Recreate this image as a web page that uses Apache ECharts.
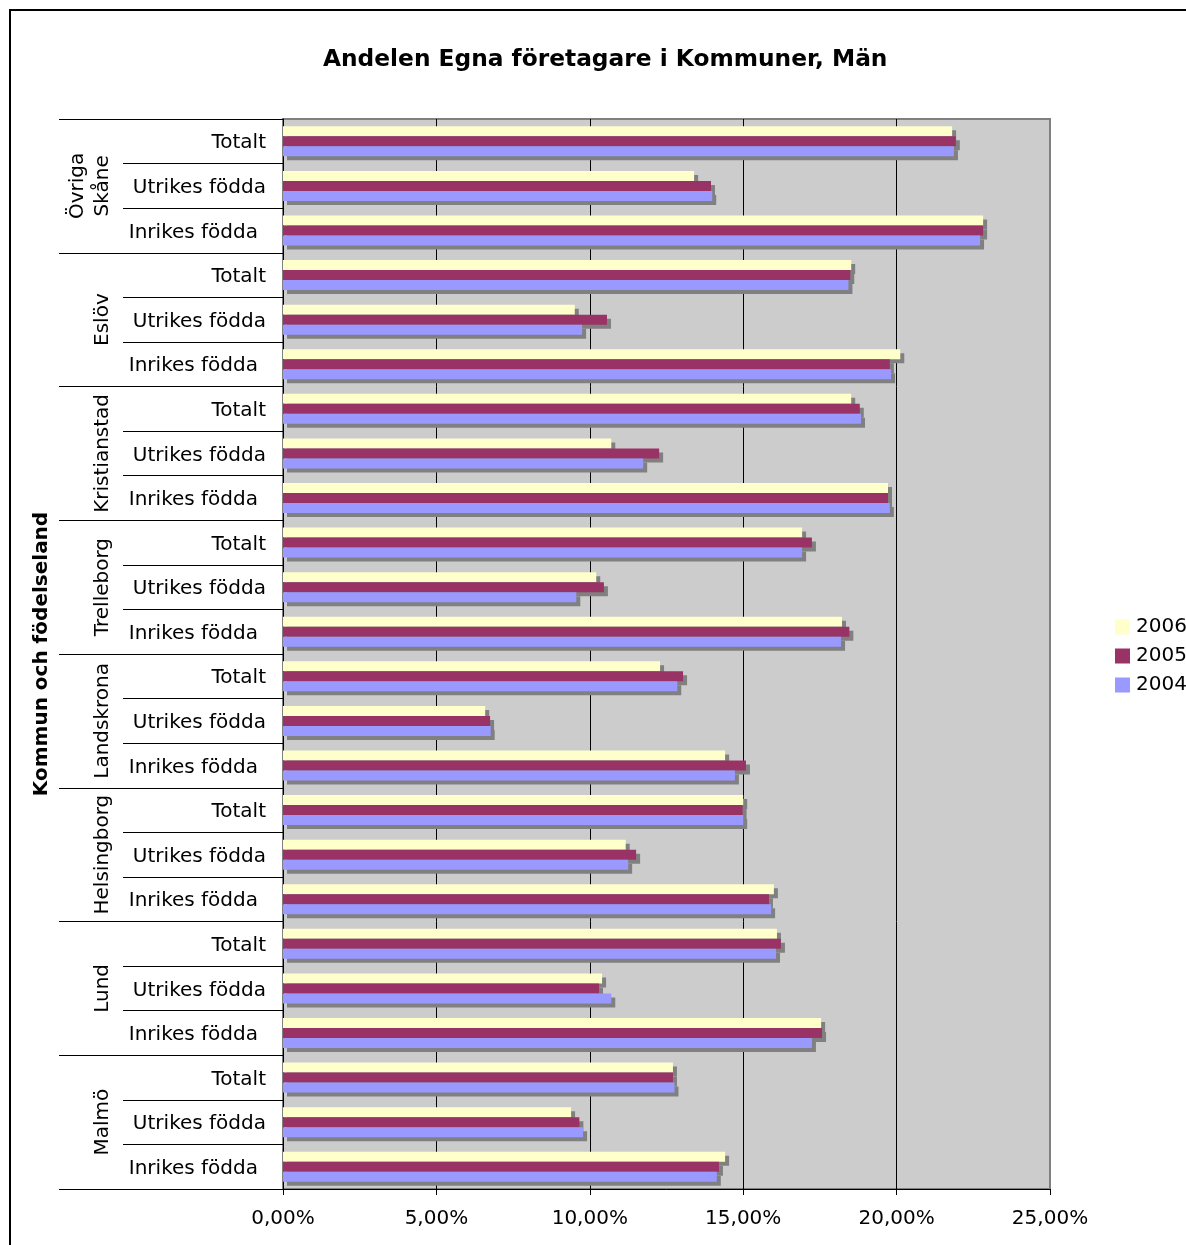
<!DOCTYPE html>
<html>
<head>
<meta charset="utf-8">
<script src="https://cdn.jsdelivr.net/npm/echarts@6/dist/echarts.min.js"></script>
<style>
html,body{margin:0;padding:0;background:#fff;}
#chart{width:1186px;height:1245px;}
</style>
</head>
<body>
<div id="chart"></div>
<script>
// Categories listed bottom to top
var groups = ['Malmö', 'Lund', 'Helsingborg', 'Landskrona', 'Trelleborg', 'Kristianstad', 'Eslöv', 'Övriga\nSkåne'];
var subs = ['Inrikes födda', 'Utrikes födda', 'Totalt'];
var years = ['2006', '2005', '2004'];
var xTicks = [0, 5, 10, 15, 20, 25];

// Percent values, order: each group (bottom to top) x [Inrikes, Utrikes, Totalt]
var v2006 = [14.41, 9.39, 12.71, 17.54, 10.40, 16.10, 16.00, 11.17, 15.00, 14.41, 6.59, 12.29,
             18.22, 10.21, 16.92, 19.72, 10.70, 18.52, 20.12, 9.51, 18.52, 22.82, 13.40, 21.81];
var v2005 = [14.21, 9.66, 12.71, 17.57, 10.30, 16.23, 15.84, 11.51, 14.98, 15.09, 6.75, 13.04,
             18.46, 10.46, 17.24, 19.72, 12.26, 18.80, 19.78, 10.56, 18.49, 22.82, 13.95, 21.93];
var v2004 = [14.14, 9.78, 12.76, 17.24, 10.70, 16.07, 15.91, 11.25, 15.00, 14.73, 6.77, 12.85,
             18.19, 9.56, 16.92, 19.78, 11.74, 18.84, 19.82, 9.75, 18.43, 22.72, 13.99, 21.87];

var cats = [];
groups.forEach(function (g) { subs.forEach(function (s) { cats.push(s); }); });

var FONT = 'DejaVu Sans';
var colors = {'2006': '#FFFFCC', '2005': '#993366', '2004': '#9999FF'};
var values = {'2006': v2006, '2005': v2005, '2004': v2004};

var chart = echarts.init(document.getElementById('chart'), null, {renderer: 'canvas'});

var series = years.map(function (y) {
  return {
    name: y,
    type: 'bar',
    data: values[y],
    barWidth: 10,
    barGap: '0%',
    itemStyle: {
      color: colors[y],
      shadowColor: '#808080',
      shadowBlur: 0,
      shadowOffsetX: 4,
      shadowOffsetY: 4
    },
    emphasis: {disabled: true}
  };
});

chart.setOption({
  animation: false,
  backgroundColor: '#ffffff',
  textStyle: {fontFamily: FONT, color: '#000'},
  title: {
    text: 'Andelen Egna företagare i Kommuner, Män',
    left: 318,
    top: 43,
    textStyle: {fontFamily: FONT, fontSize: 23.3, fontWeight: 'bold', color: '#000'}
  },
  legend: {
    data: years,
    orient: 'vertical',
    left: 1115,
    top: 617,
    padding: 0,
    itemWidth: 15,
    itemHeight: 15,
    itemGap: 9,
    icon: 'rect',
    selectedMode: false,
    itemStyle: {shadowColor: 'rgba(0,0,0,0)', shadowBlur: 0, shadowOffsetX: 0, shadowOffsetY: 0},
    textStyle: {fontFamily: FONT, fontSize: 20, color: '#000', padding: [0, 0, 0, 1]}
  },
  grid: {
    left: 283, right: 136, top: 119, bottom: 56,
    show: true,
    backgroundColor: '#CCCCCC',
    borderColor: '#808080',
    borderWidth: 2
  },
  xAxis: {
    type: 'value',
    min: xTicks[0],
    max: xTicks[xTicks.length - 1],
    interval: 5,
    axisLine: {show: true, lineStyle: {color: '#000', width: 1}},
    axisTick: {show: true, length: 6, lineStyle: {color: '#000'}},
    axisLabel: {
      fontFamily: FONT, fontSize: 20, color: '#000', margin: 20,
      formatter: function (v) { return v.toFixed(2).replace('.', ',') + '%'; }
    },
    splitLine: {show: true, showMinLine: false, showMaxLine: false, lineStyle: {color: '#000', width: 1}}
  },
  yAxis: [{
    type: 'category',
    data: cats,
    position: 'left',
    offset: 0,
    axisLine: {show: true, lineStyle: {color: '#000', width: 1}},
    axisTick: {show: true, length: 160, interval: 0, lineStyle: {color: '#000', width: 1}},
    axisLabel: {
      interval: 0, fontFamily: FONT, fontSize: 20, color: '#000', margin: 17,
      padding: [4, 0, 0, 0],
      formatter: function (v) { return v === 'Inrikes födda' ? '{i|' + v + '}' : v; },
      rich: {i: {fontFamily: FONT, fontSize: 20, color: '#000', padding: [0, 8, 0, 0]}}
    },
    splitLine: {show: false}
  }, {
    type: 'category',
    data: groups,
    position: 'left',
    offset: 0,
    name: 'Kommun och födelseland',
    nameLocation: 'middle',
    nameRotate: 90,
    nameGap: 231,
    nameTextStyle: {fontFamily: FONT, fontSize: 20, fontWeight: 'bold', color: '#000'},
    axisLine: {show: false},
    axisTick: {show: true, length: 224, interval: 0, lineStyle: {color: '#000', width: 1}},
    axisLabel: {
      interval: 0, rotate: 90, fontFamily: FONT, fontSize: 20, color: '#000', margin: 168,
      lineHeight: 25
    },
    splitLine: {show: false}
  }],
  series: series,
  graphic: [{
    type: 'rect',
    silent: true,
    shape: {x: 10, y: 10, width: 1300, height: 1400},
    style: {fill: null, stroke: '#000', lineWidth: 2},
    z: 100
  }]
});
</script>
</body>
</html>
